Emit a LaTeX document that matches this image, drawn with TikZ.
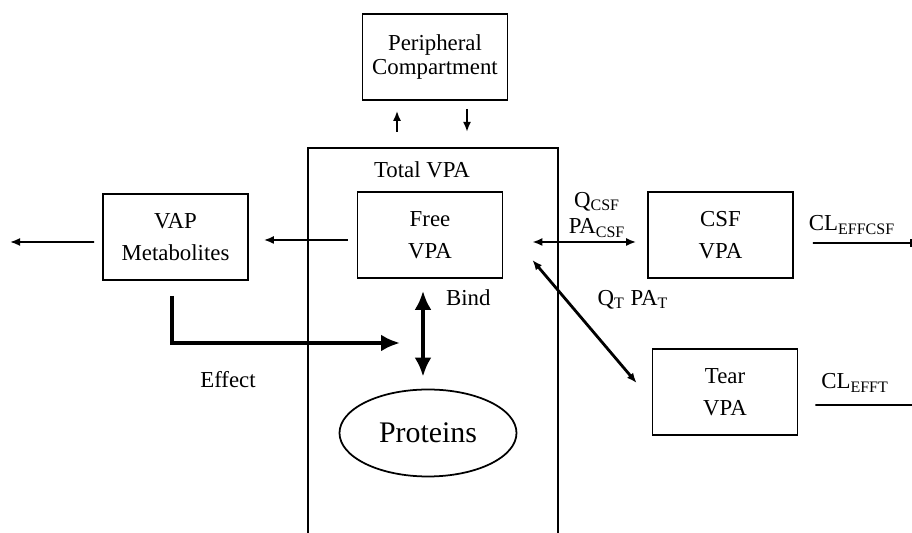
\documentclass[tikz,border=0pt]{standalone}
\usepackage{fontspec}
\setmainfont{Liberation Serif}
\usetikzlibrary{shapes.geometric, arrows.meta}
\tikzset{%
  >={Latex[width=1.6mm,length=2mm]},
  % Specifications for style of nodes:
  base/.style = {
    line width=1pt,
    draw=black,
    text centered,
    font=\fontsize{13}{18}\selectfont
  },
  compartment/.style={base, rectangle, minimum width=2.9cm, minimum height=1.72cm},
  pool/.style={base, ellipse, minimum width=3.54cm, minimum height=1.74cm,
    font=\fontsize{17}{20}\selectfont},
  note/.style={font=\fontsize{13}{16}\selectfont},
  flow/.style={line width=1pt},
  heavy/.style={line width=2.8pt, >={Latex[width=3.4mm,length=3.8mm]}},
}

\begin{document}
\begin{tikzpicture}[
  align=center,
  every node/.style={inner sep=1pt},
  ]
  \useasboundingbox[fill=white] (0,0) rectangle (18.24,10.66);
  % nodes
  \node (periph) [compartment, font=\fontsize{13}{14}\selectfont] at (8.70,9.52)
  {Peripheral\\Compartment};
  \node (vap) [compartment] at (3.51,5.92) {VAP\\Metabolites};
  \node (free) [compartment] at (8.60,5.96) {Free\\VPA};
  \node (csf) [compartment] at (14.41,5.96) {CSF\\VPA};
  \node (tear) [compartment] at (14.50,2.82) {Tear\\VPA};
  \node (proteins) [pool] at (8.56,2.00) {Proteins};
  % the open Total VPA frame
  \draw[flow] (6.16,0) |- (11.16,7.70) -- (11.16,0);
  \node (total) [note] at (8.44,7.26) {Total VPA};
  % labels
  \node (bind) [note, anchor=west] at (8.88,4.70) {Bind};
  \node (effect) [note] at (4.56,3.06) {Effect};
  \node (qcsf) [note, font=\fontsize{13}{15}\selectfont] at (11.94,6.36)
  {Q\textsubscript{CSF}\\PA\textsubscript{CSF}};
  \node (qt) [note] at (12.66,4.66) {Q\textsubscript{T} PA\textsubscript{T}};
  \node (clcsf) [note] at (17.04,6.16) {CL\textsubscript{EFFCSF}};
  \node (clt) [note] at (17.10,3.00) {CL\textsubscript{EFFT}};
  \coordinate (vapout) at (0.20,5.82);
  \coordinate (effend) at (8.00,3.80);
  \coordinate (csfout) at (18.24,5.80);
  \coordinate (tearout) at (18.24,2.56);
  % lines
  \draw[->, flow] ([xshift=-0.76cm, yshift=-0.62cm]periph.south)
    -- ([xshift=-0.76cm, yshift=-0.20cm]periph.south);
  \draw[->, flow] ([xshift=0.64cm, yshift=-0.16cm]periph.south)
    -- ([xshift=0.64cm, yshift=-0.62cm]periph.south);
  \draw[->, flow] ([xshift=-0.16cm, yshift=-0.10cm]vap.west) -- (vapout);
  \draw[->, flow, shorten <=0.18cm, shorten >=0.30cm]
    ([yshift=-0.10cm]free.west) -- ([yshift=-0.10cm]free.west -| vap.east);
  \draw[->, heavy] ([xshift=-0.07cm, yshift=-0.30cm]vap.south) |- (effend);
  \draw[<->, heavy, shorten <=0.24cm, shorten >=0.24cm]
    ([xshift=-0.14cm]free.south) -- ([xshift=-0.14cm]free.south |- proteins.north);
  \draw[<->, flow, shorten <=0.58cm, shorten >=0.22cm]
    ([yshift=-0.14cm]free.east) -- ([yshift=-0.14cm]free.east -| csf.west);
  \draw[<->, line width=1.6pt] ([xshift=0.58cm, yshift=-0.50cm]free.east)
    -- ([xshift=-0.30cm, yshift=0.18cm]tear.west);
  \draw[-{Bar[width=4pt]}, flow, shorten <=0.38cm] ([yshift=-0.16cm]csf.east) -- (csfout);
  \draw[flow, shorten <=0.34cm] ([yshift=-0.26cm]tear.east) -- (tearout);
\end{tikzpicture}
\end{document}
